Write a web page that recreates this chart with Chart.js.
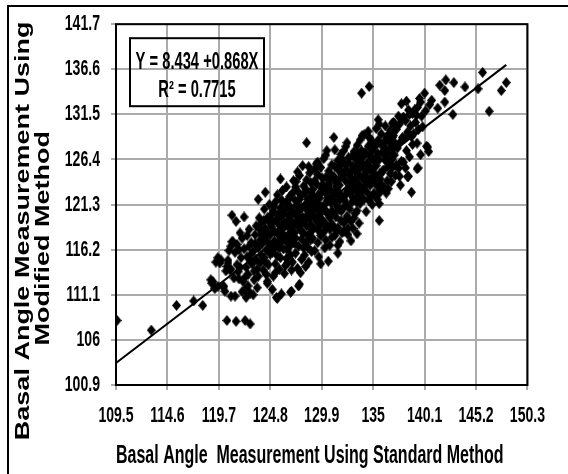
<!DOCTYPE html>
<html>
<head>
<meta charset="utf-8">
<script src="https://cdn.jsdelivr.net/npm/chart.js@4.4.1/dist/chart.umd.min.js"></script>
<style>
  html, body { margin: 0; padding: 0; background: #fff; overflow: hidden; }
  #wrap { position: relative; width: 568px; height: 474px; }
  #frame { position: absolute; left: 7px; top: 5px; right: -10px; bottom: -10px;
           border-top: 2px solid #000; border-left: 2px solid #000; pointer-events: none; }
</style>
</head>
<body>
<div id="wrap">
  <canvas id="chart" width="568" height="474"></canvas>
  <div id="frame"></div>
</div>
<script>
// AXIS TICKS
const xTicks = [109.5, 114.6, 119.7, 124.8, 129.9, 135, 140.1, 145.2, 150.3];
const yTicks = [100.9, 106, 111.1, 116.2, 121.3, 126.4, 131.5, 136.6, 141.7];

// regression line (start at left axis, end near 148)
const fitX = [109.5, 148.2];
const fitY = [103.4, 137.1];
const eqLines = ['Y = 8.434 +0.868X', 'R\u00B2 = 0.7715'];

// measurements: [standard method, modified method]
const basalPoints = [
  // lower-left stragglers
  [109.6,108.2],[113.0,107.1],[115.5,109.9],[117.2,110.4],[118.1,109.9],[118.9,112.8],
  [120.5,108.2],[121.4,108.1],[122.3,108.2],[122.8,107.8],[121.0,120.1],[122.2,119.9],
  // 119 - 121
  [119.1,112.6],[119.4,114.8],[119.6,115.3],[119.9,115.05],[119.6,112.05],[119.0,112.4],[119.8,114.7],[119.3,111.8],
  [120.1,112.05],[120.5,114.3],[120.2,112.05],[120.4,113.8],[120.7,116.1],[120.9,116.6],[120.6,115.0],[120.3,111.5],
  [120.8,113.9],[120.9,110.95],[121.0,117.1],[120.6,114.7],[120.9,114.0],
  // 121 - 123
  [121.3,110.95],[121.1,117.1],[121.3,115.9],[121.5,114.5],[121.7,116.2],[121.6,113.7],[121.8,118.1],[121.2,113.0],
  [121.9,115.3],[121.4,119.4],[121.7,112.9],[122.0,117.5],[121.5,116.8],[121.8,114.2],
  [122.4,110.8],[122.0,111.45],[122.3,111.7],[122.8,111.3],[122.7,118.5],[122.2,116.3],[122.5,115.4],[122.9,117.0],
  [122.4,114.2],[122.6,113.4],[122.1,112.6],[122.8,114.9],[122.5,117.8],[122.9,115.7],[122.3,113.1],[122.7,116.6],[122.6,112.1],
  // 123 - 125
  [123.1,111.1],[123.5,111.9],[123.2,113.8],[123.4,115.1],[123.6,116.4],[123.8,117.3],[123.3,117.9],[123.7,118.6],
  [123.9,119.2],[123.1,116.0],[123.5,114.0],[123.9,115.6],[123.2,112.8],[123.6,113.2],[123.8,114.7],[123.4,118.9],
  [123.0,114.6],[123.7,119.8],[124.0,116.9],[123.3,116.9],[123.9,117.9],[123.6,121.9],
  [124.3,122.7],[124.5,112.6],[124.5,112.4],[124.1,113.9],[124.2,115.3],[124.4,116.2],[124.6,117.0],[124.8,117.9],
  [124.3,118.6],[124.7,119.3],[124.9,120.2],[124.2,120.8],[124.6,114.5],[124.8,115.7],[124.0,118.2],[124.4,113.4],
  [124.9,116.6],[124.1,117.4],[124.7,121.3],[124.5,119.8],[124.9,118.8],[124.3,114.8],
  [124.15,119.5],[124.55,118.1],[124.75,116.3],[124.35,117.7],[124.85,119.6],
  // 125 - 127
  [125.0,111.7],[125.4,110.8],[125.5,110.7],[125.8,124.2],[125.9,111.2],[125.1,113.2],[125.3,114.6],[125.5,115.5],
  [125.7,116.4],[125.2,117.2],[125.6,117.9],[125.9,118.7],[125.1,119.4],[125.5,120.1],[125.8,120.9],[125.3,121.6],
  [125.7,114.0],[125.0,115.9],[125.4,116.9],[125.9,117.2],[125.2,118.3],[125.6,119.1],[125.8,115.3],[125.1,120.6],
  [125.5,122.4],[125.9,121.8],[125.3,113.6],[125.7,118.4],
  [125.25,116.4],[125.65,116.9],[125.45,119.6],[125.85,119.9],[125.15,121.1],[125.75,120.3],
  [126.9,111.5],[126.8,111.4],[126.2,113.5],[126.5,114.7],[126.8,115.6],[126.1,116.3],[126.4,117.1],[126.7,117.8],
  [126.9,118.6],[126.2,119.3],[126.6,120.0],[126.9,120.7],[126.3,121.4],[126.7,122.2],[126.0,118.0],[126.4,115.2],
  [126.8,116.7],[126.1,120.4],[126.5,118.9],[126.9,113.9],[126.3,114.4],[126.6,121.9],[126.0,122.9],[126.8,119.6],
  [126.4,123.3],[126.2,117.6],
  [126.15,118.7],[126.55,119.5],[126.35,120.8],[126.75,121.1],[126.95,117.3],[126.45,116.2],[126.05,121.6],
  // 127 - 129
  [127.1,124.0],[127.6,112.1],[127.7,112.3],[127.0,114.8],[127.3,115.8],[127.6,116.6],[127.9,117.4],[127.2,118.1],
  [127.5,118.9],[127.8,119.7],[127.1,120.4],[127.4,121.2],[127.7,121.9],[127.0,122.6],[127.3,123.3],[127.9,115.1],
  [127.5,114.1],[127.2,116.9],[127.8,118.4],[127.4,120.0],[127.9,121.0],[127.6,122.7],[127.1,119.1],[127.7,124.6],
  [128.0,125.7],[127.3,117.5],[127.8,113.6],[127.5,125.0],
  [127.15,117.6],[127.45,119.4],[127.65,120.6],[127.85,122.3],[127.25,121.8],[127.95,119.2],[127.35,123.9],
  [128.4,128.3],[128.2,115.6],[128.5,116.5],[128.8,117.3],[128.1,118.1],[128.4,118.9],[128.7,119.7],[128.9,120.4],
  [128.2,121.2],[128.5,121.9],[128.8,122.7],[128.1,123.4],[128.4,124.1],[128.7,124.9],[128.9,116.0],[128.3,117.0],
  [128.6,114.8],[128.0,119.9],[128.9,118.5],[128.5,120.6],[128.2,122.6],[128.8,123.8],[128.6,125.6],[128.3,114.3],
  [128.9,121.5],[128.1,116.4],[128.7,118.0],
  [128.15,119.4],[128.45,120.1],[128.65,121.4],[128.85,119.0],[128.35,123.0],[128.75,122.0],[128.55,117.8],
  // 129 - 131
  [129.2,116.1],[129.5,117.0],[129.8,117.8],[129.1,118.6],[129.4,119.4],[129.7,120.2],[129.0,120.9],[129.3,121.7],
  [129.6,122.5],[129.9,123.2],[129.2,124.0],[129.5,124.7],[129.8,125.5],[129.1,122.2],[129.4,123.6],[129.7,118.9],
  [129.0,117.5],[129.9,121.0],[129.3,119.8],[129.6,115.4],[129.8,114.6],[129.5,126.1],[129.2,125.3],[129.9,119.6],
  [129.6,121.3],[129.0,123.0],
  [129.15,119.9],[129.45,120.8],[129.65,122.0],[129.85,122.6],[129.25,121.0],[129.55,118.4],[129.95,124.3],[129.35,125.9],
  [130.55,114.9],[130.3,117.3],[130.1,118.2],[130.4,119.0],[130.7,119.8],[130.9,120.6],[130.2,121.3],[130.5,122.1],
  [130.8,122.9],[130.0,123.6],[130.3,124.4],[130.6,125.1],[130.9,125.8],[130.1,126.5],[130.4,120.4],[130.7,118.5],
  [130.2,116.4],[130.9,117.6],[130.5,123.3],[130.8,121.5],[130.0,119.5],[130.6,124.2],[130.3,126.9],[130.9,119.1],
  [130.4,127.4],[130.7,116.7],
  [130.15,120.8],[130.45,121.8],[130.65,123.7],[130.85,124.6],[130.25,122.7],[130.55,120.2],[130.95,122.2],[130.35,118.7],
  // 131 - 133
  [131.5,115.8],[131.1,128.9],[131.2,117.8],[131.5,118.7],[131.8,119.5],[131.1,120.3],[131.4,121.1],[131.7,121.8],
  [131.0,122.6],[131.3,123.4],[131.6,124.1],[131.9,124.9],[131.2,125.6],[131.5,126.3],[131.8,127.0],[131.3,119.9],
  [131.7,117.1],[131.0,118.9],[131.9,122.3],[131.4,123.0],[131.6,120.7],[131.8,125.8],[131.1,124.5],[131.5,116.7],
  [131.9,118.1],[131.2,127.5],[131.6,122.6],
  [131.15,121.7],[131.45,122.4],[131.65,123.5],[131.85,120.6],[131.25,124.0],[131.55,125.2],[131.95,126.4],[131.35,118.3],
  [132.5,117.9],[132.5,118.6],[132.1,119.2],[132.4,120.0],[132.7,120.8],[132.9,121.6],[132.2,122.3],[132.5,123.1],
  [132.8,123.8],[132.0,124.6],[132.3,125.3],[132.6,126.0],[132.9,126.8],[132.1,127.4],[132.4,121.2],[132.8,119.4],
  [132.0,120.9],[132.6,124.7],[132.3,127.9],[132.9,125.2],[132.1,118.3],[132.7,122.6],[132.4,128.3],[132.8,117.2],
  [132.2,125.9],
  [132.15,121.8],[132.45,122.8],[132.65,123.4],[132.85,124.3],[132.25,124.0],[132.55,126.6],[132.95,122.9],[132.35,119.7],
  // 133 - 135
  [133.1,119.8],[133.4,120.6],[133.7,121.4],[133.0,122.1],[133.3,122.9],[133.6,123.6],[133.9,124.4],[133.2,125.1],
  [133.5,125.8],[133.8,126.6],[133.1,127.3],[133.4,128.0],[133.7,128.6],[133.85,133.9],[133.0,118.6],[133.6,119.2],
  [133.3,124.2],[133.9,121.9],[133.5,127.1],[133.2,120.3],[133.8,123.1],[133.0,125.7],[133.6,126.2],[133.4,118.0],
  [133.9,129.1],
  [133.15,123.4],[133.45,124.7],[133.65,125.3],[133.85,127.4],[133.25,126.5],[133.55,122.4],[133.95,125.9],[133.35,121.6],
  [134.6,134.65],[134.1,121.9],[134.4,122.7],[134.7,123.5],[134.0,124.2],[134.3,125.0],[134.6,125.7],[134.9,126.5],
  [134.2,127.2],[134.5,127.9],[134.8,128.6],[134.1,129.2],[134.4,126.0],[134.7,124.3],[134.0,122.9],[134.9,121.3],
  [134.3,120.5],[134.6,128.9],[134.8,122.2],[134.2,124.8],[134.5,129.6],[134.9,127.4],[134.0,126.7],
  [134.15,125.6],[134.45,124.1],[134.65,126.8],[134.85,125.2],[134.25,123.5],[134.55,121.8],[134.95,128.1],
  // 135 - 137
  [135.6,130.4],[135.6,119.5],[135.1,122.6],[135.4,123.4],[135.7,124.2],[135.0,125.0],[135.3,125.7],[135.6,126.4],
  [135.9,127.2],[135.2,127.9],[135.5,128.6],[135.8,129.3],[135.1,123.9],[135.4,121.9],[135.7,122.9],[135.0,128.2],
  [135.9,125.0],[135.3,129.9],[135.6,121.4],[135.2,126.5],[135.8,123.6],[135.5,130.9],
  [135.15,126.2],[135.45,127.1],[135.65,124.8],[135.85,128.0],[135.25,124.4],[135.55,122.5],
  [136.1,123.2],[136.4,124.0],[136.7,124.8],[136.9,125.5],[136.2,126.3],[136.5,127.0],[136.8,127.7],[136.1,128.4],
  [136.4,129.1],[136.7,129.7],[136.0,125.2],[136.3,122.6],[136.6,126.1],[136.9,128.9],[136.2,130.2],[136.5,123.1],
  [136.8,123.9],[136.9,130.5],[136.3,127.6],
  [136.15,126.9],[136.45,125.6],[136.65,128.3],[136.85,126.4],[136.35,128.9],
  // 137 - 139
  [137.0,130.6],[137.1,130.5],[137.7,123.5],[137.8,132.7],[137.2,124.6],[137.5,125.4],[137.8,126.2],[137.1,126.9],
  [137.4,127.7],[137.7,128.4],[137.0,129.1],[137.3,129.8],[137.6,130.4],[137.9,131.0],[137.3,125.8],[137.6,124.5],
  [137.9,128.9],[137.2,128.2],[137.5,131.3],
  [138.0,131.2],[138.6,131.5],[138.2,125.45],[138.5,124.5],[138.4,124.45],[138.8,122.7],[138.6,126.7],[138.3,127.4],
  [138.9,128.1],[138.1,128.8],[138.4,129.5],[138.7,130.2],[138.2,130.8],[138.5,132.0],[138.8,129.0],[138.0,126.1],
  [138.9,131.6],[138.3,133.0],
  // 139 - 141
  [139.4,132.3],[139.7,132.9],[139.1,132.0],[139.35,128.25],[139.35,125.35],[139.45,125.45],[139.7,126.95],[139.5,129.8],
  [139.2,130.6],[139.8,131.3],[139.0,129.3],[139.6,133.3],[139.9,130.1],[139.3,131.4],
  [140.1,133.9],[140.8,133.1],[140.3,127.9],[140.5,127.3],[140.4,127.8],[140.2,131.9],[140.6,132.6],
  // upper right
  [141.4,132.2],[141.6,134.8],[142.1,134.2],[142.1,132.9],[142.2,135.4],[142.9,131.5],[143.0,135.1],[144.1,134.6],
  [145.4,134.4],[145.85,136.25],[146.5,131.85],[147.7,134.2],[148.2,135.1]
];

const FONT = '"Liberation Sans", Arial, sans-serif';
const GRID = '#ababab';
const SQUISH = 0.64;      // flat text: source lettering is a narrow Calibri
const SQUISH_ROT = 0.72;  // rotated y title is thinner across too

// diamond marker, a bit taller than wide like the source
const diamond = document.createElement('canvas');
diamond.width = 9; diamond.height = 11;
const dctx = diamond.getContext('2d');
dctx.fillStyle = '#000';
dctx.beginPath();
dctx.moveTo(4.5, 0); dctx.lineTo(9, 5.5); dctx.lineTo(4.5, 11); dctx.lineTo(0, 5.5);
dctx.closePath();
dctx.fill();

// squeeze text horizontally on screen, around its own anchor point
const squishPlugin = {
  id: 'squish',
  beforeDraw(chart) {
    const fill = CanvasRenderingContext2D.prototype.fillText;
    chart.ctx.fillText = function (text, x, y) {
      const m = this.getTransform();
      const k = Math.abs(m.b) > 1e-6 ? SQUISH_ROT : SQUISH;
      const sx = m.a * x + m.c * y + m.e;
      const sy = m.b * x + m.d * y + m.f;
      this.save();
      this.setTransform(k, 0, 0, 1, sx, sy);
      this.transform(m.a, m.b, m.c, m.d, 0, 0);
      fill.call(this, text, 0, 0);
      this.restore();
    };
  },
  afterDraw(chart) { delete chart.ctx.fillText; }
};

// plot frame + equation box
const framePlugin = {
  id: 'frame',
  beforeDatasetsDraw(chart) {
    const { ctx, chartArea: a } = chart;
    ctx.save();
    ctx.strokeStyle = '#000';
    ctx.lineWidth = 2;
    ctx.strokeRect(a.left, a.top, a.right - a.left, a.bottom - a.top);
    ctx.restore();
  },
  afterDatasetsDraw(chart) {
    const { ctx, chartArea: a } = chart;
    const bx = a.left + 14, by = a.top + 14, bw = 134, bh = 68;
    ctx.save();
    ctx.strokeStyle = '#000';
    ctx.lineWidth = 2;
    ctx.strokeRect(bx, by, bw, bh);
    ctx.fillStyle = '#000';
    ctx.font = 'bold 23px ' + FONT;
    ctx.textAlign = 'center';
    ctx.textBaseline = 'middle';
    ctx.fillText(eqLines[0], bx + bw / 2, by + 24);
    ctx.fillText(eqLines[1], bx + bw / 2, by + 52);
    ctx.restore();
  }
};

new Chart(document.getElementById('chart'), {
  type: 'scatter',
  data: {
    datasets: [
      {
        type: 'line',
        label: 'fit',
        data: fitX.map((x, i) => ({ x: x, y: fitY[i] })),
        borderColor: '#000',
        borderWidth: 2,
        pointRadius: 0,
        fill: false
      },
      {
        label: 'Basal angle',
        data: basalPoints.map(p => ({ x: p[0], y: p[1] })),
        pointStyle: diamond,
        pointRadius: 5,
        backgroundColor: '#000',
        borderColor: '#000'
      }
    ]
  },
  options: {
    responsive: false,
    animation: false,
    events: [],
    layout: { padding: { left: 0, top: 19, right: 19, bottom: 0 } },
    plugins: { legend: { display: false }, tooltip: { enabled: false } },
    scales: {
      x: {
        type: 'linear',
        min: 109.5, max: 150.3,
        afterBuildTicks: s => { s.ticks = xTicks.map(v => ({ value: v })); },
        afterFit: s => { s.height = 89; },
        grid: { color: GRID, lineWidth: 2, tickLength: 5, tickColor: GRID },
        border: { display: false },
        ticks: {
          color: '#000', padding: 13, maxRotation: 0, autoSkip: false,
          font: { family: FONT, size: 22, weight: 'bold' },
          callback: v => String(Math.round(v * 10) / 10)
        },
        title: {
          display: true,
          align: 'start',
          text: 'Basal Angle  Measurement Using Standard Method',
          color: '#000',
          font: { family: FONT, size: 25, weight: 'bold' },
          padding: { top: 0, bottom: 3 }
        }
      },
      y: {
        type: 'linear',
        min: 100.9, max: 141.7,
        afterBuildTicks: s => { s.ticks = yTicks.map(v => ({ value: v })); },
        afterFit: s => { s.width = 116; },
        grid: { color: GRID, lineWidth: 2, tickLength: 5, tickColor: GRID },
        border: { display: false },
        ticks: {
          color: '#000', padding: 11, autoSkip: false,
          font: { family: FONT, size: 22, weight: 'bold' },
          callback: v => String(Math.round(v * 10) / 10)
        },
        title: {
          display: true,
          // trailing spaces push the centred lines down a little, as in the source
          text: ['Basal Angle Measurement Using       ', 'Modified Method         '],
          color: '#000',
          font: { family: FONT, size: 27, weight: 'bold', lineHeight: 0.74 },
          padding: { top: 14, bottom: 0 }
        }
      }
    }
  },
  plugins: [squishPlugin, framePlugin]
});
</script>
</body>
</html>
